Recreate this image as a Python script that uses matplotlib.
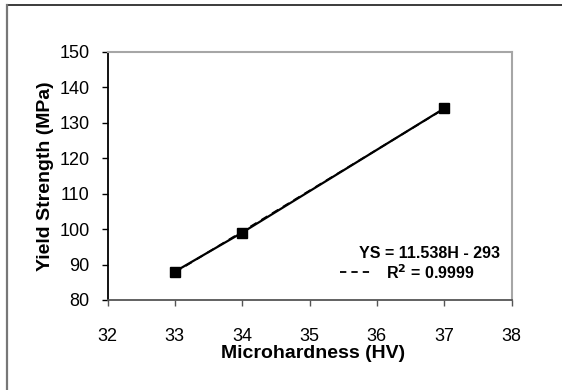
import numpy as np
import matplotlib
matplotlib.use("Agg")
import matplotlib.pyplot as plt
from matplotlib.lines import Line2D

plt.rcParams['font.family'] = ['Liberation Sans', 'DejaVu Sans']

# Data
hardness = [33, 34, 37]
yield_strength = [88, 99, 134]
slope = 11.538
intercept = -293
eq_text = "YS = 11.538H - 293"
r2_text = "R$^\\mathbf{2}$ = 0.9999"
x_ticks = [32, 33, 34, 35, 36, 37, 38]
y_ticks = [80, 90, 100, 110, 120, 130, 140, 150]

W, H = 562, 390
fig = plt.figure(figsize=(W / 100, H / 100), dpi=100)
ax_l, ax_r, ax_t, ax_b = 107.5, 511.5, 51.7, 300
ax = fig.add_axes([ax_l / W, 1 - ax_b / H, (ax_r - ax_l) / W, (ax_b - ax_t) / H])

# trend line (dashed) and data line
xf = np.array([min(hardness), max(hardness)])
ax.plot(xf, slope * xf + intercept, color='black', lw=1.3, ls=(0, (4, 3)), zorder=2)
ax.plot(hardness, yield_strength, color='black', lw=1.6, marker='s', markersize=6.5,
        markerfacecolor='black', markeredgecolor='black', zorder=3)

ax.set_xlim(32, 38)
ax.set_ylim(80, 150)
ax.set_xticks(x_ticks)
ax.set_yticks(y_ticks)
ax.tick_params(axis='x', direction='out', length=4.5, width=1, color='#555555',
               labelsize=13, pad=16)
ax.tick_params(axis='y', direction='out', length=4.5, width=1, color='black',
               labelsize=13, pad=8.5)

ax.spines['left'].set_color('black')
ax.spines['left'].set_linewidth(1.3)
ax.spines['bottom'].set_color('#555555')
ax.spines['bottom'].set_linewidth(1.3)
for s in ['top', 'right']:
    ax.spines[s].set_color('#a6a6a6')
    ax.spines[s].set_linewidth(1.5)

ax.set_xlabel("Microhardness (HV)", fontsize=14, fontweight='bold')
ax.set_ylabel("Yield Strength (MPa)", fontsize=14, fontweight='bold')
ax.xaxis.set_label_coords((313.5 - ax_l) / (ax_r - ax_l), -(345 - ax_b) / (ax_b - ax_t))
ax.yaxis.set_label_coords(-(107.5 - 54) / (ax_r - ax_l), 0.5)

# equation annotation
def fx(px):
    return (px - ax_l) / (ax_r - ax_l)
def fy(py):
    return (ax_b - py) / (ax_b - ax_t)

ax.text(fx(500), fy(253), eq_text, transform=ax.transAxes, ha='right', va='center',
        fontsize=11.5, fontweight='bold')
ax.text(fx(474), fy(273), r2_text, transform=ax.transAxes, ha='right', va='center',
        fontsize=11.5, fontweight='bold')
ax.add_line(Line2D([fx(340), fx(374)], [fy(272), fy(272)], transform=ax.transAxes,
                   color='black', lw=1.3, ls=(0, (3.5, 2.8))))

# outer frame
fig.add_artist(Line2D([7 / W, 1], [1 - 5 / H, 1 - 5 / H], transform=fig.transFigure,
                      color='#1a1a1a', lw=1.2))
fig.add_artist(Line2D([7 / W, 7 / W], [0, 1 - 5 / H], transform=fig.transFigure,
                      color='#777777', lw=1.6))

fig.savefig("out.png", dpi=100)
